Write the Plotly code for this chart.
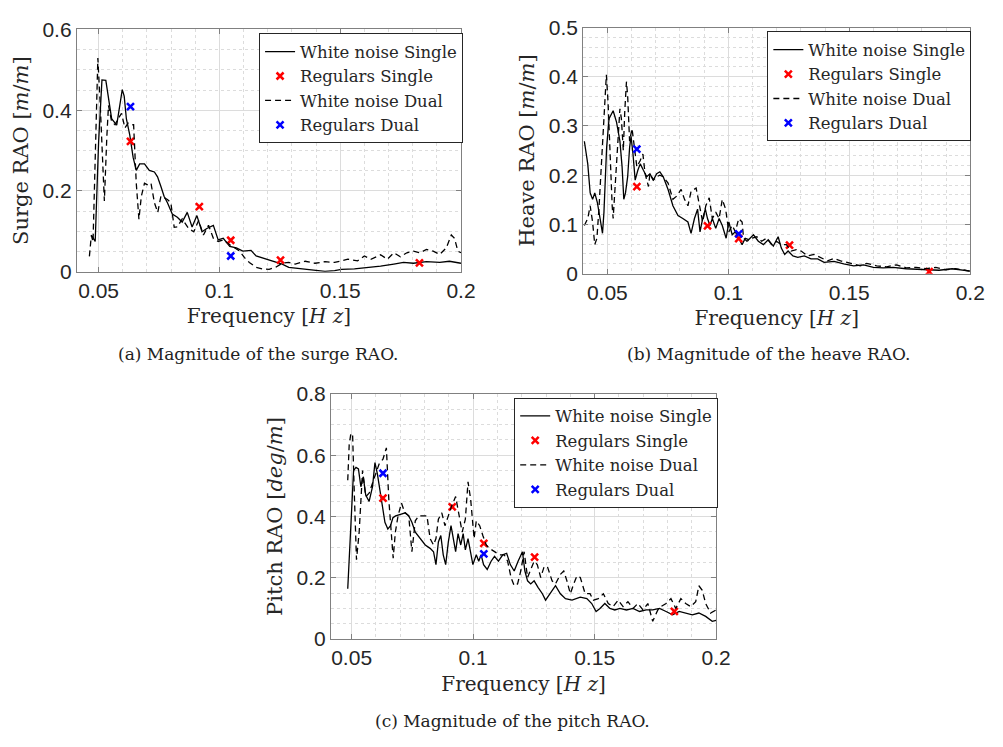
import plotly.graph_objects as go

# ---------------- (a) Surge ----------------
surge_ws_f = [0.047, 0.0486, 0.050, 0.0514, 0.053, 0.0554, 0.0575, 0.0588, 0.0598, 0.0606, 0.0615, 0.0629,
              0.0643, 0.0656, 0.067, 0.069, 0.071, 0.0731, 0.0744, 0.0758, 0.0771, 0.0785, 0.0805, 0.0826,
              0.0846, 0.0867, 0.0887, 0.0907, 0.0928, 0.0948, 0.0975, 0.0995, 0.1016, 0.1043, 0.107, 0.1097,
              0.1131, 0.1152, 0.1179, 0.1219, 0.126, 0.1287, 0.1342, 0.1396, 0.1437, 0.1477, 0.1505, 0.1559,
              0.1613, 0.1667, 0.1722, 0.1762, 0.1803, 0.1857, 0.1912, 0.1952, 0.2]
surge_ws_v = [0.091, 0.075, 0.32, 0.475, 0.474, 0.379, 0.363, 0.411, 0.451, 0.435, 0.379, 0.339,
              0.283, 0.251, 0.267, 0.267, 0.251, 0.247, 0.235, 0.211, 0.187, 0.171, 0.143, 0.135,
              0.123, 0.147, 0.111, 0.139, 0.099, 0.107, 0.115, 0.079, 0.083, 0.063, 0.059, 0.051,
              0.053, 0.039, 0.034, 0.027, 0.019, 0.011, 0.007, 0.003, 0.001, 0.003, 0.006, 0.007,
              0.010, 0.014, 0.019, 0.023, 0.021, 0.025, 0.023, 0.026, 0.021]
surge_wd_f = [0.0462, 0.047, 0.0477, 0.0497, 0.0507, 0.0524, 0.0534, 0.0541, 0.0554, 0.0568, 0.0582, 0.0595,
              0.0609, 0.0622, 0.0636, 0.0645, 0.0656, 0.0667, 0.0677, 0.069, 0.0704, 0.0717, 0.0731, 0.0745,
              0.0758, 0.0772, 0.0785, 0.0799, 0.0813, 0.0826, 0.0846, 0.0873, 0.0894, 0.0914, 0.0934, 0.0955,
              0.0975, 0.0995, 0.1016, 0.1043, 0.1063, 0.1084, 0.1104, 0.1124, 0.1152, 0.1179, 0.1206, 0.1233,
              0.126, 0.1287, 0.1314, 0.1355, 0.1396, 0.1437, 0.1477, 0.1505, 0.1532, 0.1572, 0.16, 0.1627,
              0.1667, 0.1695, 0.1722, 0.1749, 0.1776, 0.1803, 0.183, 0.1857, 0.1885, 0.1912, 0.1939, 0.196,
              0.1973, 0.1987, 0.2]
surge_wd_v = [0.038, 0.09, 0.074, 0.529, 0.412, 0.175, 0.332, 0.412, 0.372, 0.364, 0.38, 0.392,
              0.356, 0.368, 0.364, 0.364, 0.219, 0.13, 0.187, 0.219, 0.215, 0.219, 0.171, 0.147,
              0.187, 0.183, 0.179, 0.171, 0.11, 0.111, 0.131, 0.107, 0.099, 0.127, 0.091, 0.115,
              0.083, 0.075, 0.079, 0.067, 0.059, 0.051, 0.035, 0.023, 0.011, 0.007, 0.006, 0.011,
              0.021, 0.023, 0.019, 0.026, 0.021, 0.025, 0.023, 0.027, 0.031, 0.027, 0.039, 0.031,
              0.042, 0.031, 0.047, 0.037, 0.047, 0.051, 0.047, 0.055, 0.051, 0.043, 0.059, 0.091,
              0.083, 0.051, 0.047]
surge_rs_f = [0.0632, 0.0917, 0.1047, 0.1253, 0.1828]
surge_rs_v = [0.323, 0.161, 0.078, 0.029, 0.022]
surge_rd_f = [0.0632, 0.1047]
surge_rd_v = [0.409, 0.039]

# ---------------- (b) Heave ----------------
heave_ws_f = [0.0405, 0.0419, 0.0429, 0.0439, 0.0448, 0.0459, 0.047, 0.048, 0.0486, 0.0497, 0.0507, 0.0524,
              0.0538, 0.0552, 0.0561, 0.0568, 0.0575, 0.0584, 0.0592, 0.0598, 0.0606, 0.0615, 0.0626, 0.0636,
              0.0649, 0.0663, 0.0676, 0.069, 0.0704, 0.0717, 0.0731, 0.0751, 0.0771, 0.0792, 0.0812, 0.0833,
              0.0846, 0.086, 0.0873, 0.0883, 0.0894, 0.0905, 0.0914, 0.0924, 0.0934, 0.0948, 0.0962, 0.0975,
              0.0991, 0.1002, 0.1016, 0.1029, 0.1043, 0.1057, 0.107, 0.1084, 0.1104, 0.1124, 0.1145, 0.1165,
              0.1186, 0.1206, 0.1219, 0.1233, 0.1247, 0.1267, 0.1287, 0.1314, 0.1342, 0.1369, 0.1396, 0.1437,
              0.1477, 0.1518, 0.1559, 0.16, 0.164, 0.1681, 0.1735, 0.1776, 0.1817, 0.1871, 0.1925, 0.1966, 0.2]
heave_ws_v = [0.269, 0.223, 0.164, 0.151, 0.164, 0.144, 0.112, 0.082, 0.125, 0.256, 0.315, 0.331,
              0.308, 0.269, 0.217, 0.151, 0.164, 0.197, 0.256, 0.279, 0.243, 0.19, 0.21, 0.223,
              0.21, 0.197, 0.203, 0.19, 0.203, 0.207, 0.197, 0.171, 0.138, 0.118, 0.112, 0.105,
              0.082, 0.112, 0.131, 0.085, 0.112, 0.131, 0.112, 0.098, 0.112, 0.092, 0.112, 0.098,
              0.072, 0.105, 0.079, 0.085, 0.072, 0.059, 0.072, 0.069, 0.079, 0.066, 0.059, 0.069,
              0.056, 0.075, 0.052, 0.039, 0.046, 0.036, 0.033, 0.036, 0.03, 0.03, 0.023, 0.025,
              0.02, 0.016, 0.018, 0.013, 0.012, 0.013, 0.01, 0.009, 0.008, 0.007, 0.01, 0.007, 0.005]
heave_wd_f = [0.0405, 0.0419, 0.0429, 0.0439, 0.0448, 0.0457, 0.0466, 0.0477, 0.0486, 0.0496, 0.0503, 0.0511,
              0.052, 0.0524, 0.0534, 0.0543, 0.0552, 0.0558, 0.0566, 0.0572, 0.0579, 0.0584, 0.0592, 0.0602,
              0.0611, 0.0622, 0.0636, 0.0647, 0.0656, 0.067, 0.0676, 0.069, 0.0704, 0.0717, 0.0731, 0.0751,
              0.0771, 0.0785, 0.0805, 0.0819, 0.0833, 0.0846, 0.0867, 0.088, 0.0894, 0.0907, 0.0921, 0.0934,
              0.0948, 0.0962, 0.0975, 0.0989, 0.1002, 0.1016, 0.1029, 0.1043, 0.1057, 0.1063, 0.1077, 0.1097,
              0.1118, 0.1138, 0.1158, 0.1179, 0.1199, 0.1219, 0.124, 0.126, 0.1281, 0.1301, 0.1328, 0.1355,
              0.1382, 0.141, 0.1437, 0.1464, 0.1491, 0.1518, 0.1545, 0.1572, 0.1613, 0.1654, 0.1695, 0.1735,
              0.1776, 0.1817, 0.1858, 0.1898, 0.1939, 0.1979, 0.2]
heave_wd_v = [0.098, 0.112, 0.138, 0.105, 0.059, 0.072, 0.138, 0.236, 0.335, 0.404, 0.348, 0.236,
              0.138, 0.112, 0.19, 0.282, 0.335, 0.315, 0.25, 0.33, 0.39, 0.361, 0.269, 0.295,
              0.262, 0.217, 0.23, 0.243, 0.203, 0.177, 0.203, 0.19, 0.197, 0.2, 0.197, 0.184,
              0.151, 0.157, 0.171, 0.151, 0.138, 0.167, 0.174, 0.138, 0.105, 0.138, 0.154, 0.112,
              0.125, 0.112, 0.151, 0.131, 0.085, 0.098, 0.085, 0.112, 0.105, 0.072, 0.066, 0.072,
              0.075, 0.066, 0.072, 0.059, 0.066, 0.059, 0.059, 0.046, 0.049, 0.046, 0.036, 0.039,
              0.033, 0.026, 0.031, 0.026, 0.023, 0.02, 0.016, 0.021, 0.016, 0.014, 0.018, 0.012,
              0.013, 0.01, 0.013, 0.008, 0.01, 0.007, 0.005]
heave_rs_f = [0.0622, 0.0914, 0.1043, 0.1253, 0.183]
heave_rs_v = [0.177, 0.097, 0.071, 0.058, 0.004]
heave_rd_f = [0.0622, 0.1043]
heave_rd_v = [0.253, 0.081]

# ---------------- (c) Pitch ----------------
pitch_ws_f = [0.0484, 0.0493, 0.0501, 0.0508, 0.0518, 0.0528, 0.0538, 0.0548, 0.0558, 0.0572, 0.0586, 0.0596,
              0.0606, 0.0615, 0.0626, 0.0637, 0.0649, 0.066, 0.067, 0.0681, 0.0701, 0.0721, 0.0735, 0.0748,
              0.0762, 0.0782, 0.0803, 0.0823, 0.0837, 0.0847, 0.0857, 0.0867, 0.0877, 0.0887, 0.0898, 0.0909,
              0.0918, 0.0928, 0.0938, 0.0949, 0.0959, 0.0968, 0.0979, 0.099, 0.0999, 0.1013, 0.1023, 0.1033,
              0.1043, 0.1058, 0.1074, 0.1088, 0.1104, 0.1122, 0.1138, 0.1153, 0.1169, 0.1185, 0.1203, 0.1213,
              0.1224, 0.1237, 0.1251, 0.1267, 0.1285, 0.1298, 0.1318, 0.1339, 0.1359, 0.138, 0.1407, 0.1441,
              0.1468, 0.1488, 0.1506, 0.1522, 0.1542, 0.1563, 0.1583, 0.1604, 0.1631, 0.1658, 0.1685, 0.1712,
              0.1739, 0.1767, 0.1794, 0.1821, 0.1848, 0.1875, 0.1902, 0.1929, 0.1957, 0.1984, 0.2]
pitch_ws_v = [0.164, 0.317, 0.455, 0.55, 0.56, 0.555, 0.497, 0.529, 0.47, 0.449, 0.497, 0.576,
              0.539, 0.497, 0.433, 0.381, 0.359, 0.37, 0.396, 0.402, 0.407, 0.412, 0.402, 0.381,
              0.349, 0.328, 0.307, 0.296, 0.285, 0.243, 0.317, 0.338, 0.275, 0.243, 0.317, 0.37,
              0.328, 0.285, 0.344, 0.307, 0.344, 0.291, 0.328, 0.275, 0.243, 0.275, 0.254, 0.275,
              0.243, 0.227, 0.254, 0.27, 0.254, 0.275, 0.28, 0.243, 0.222, 0.254, 0.285, 0.222,
              0.19, 0.18, 0.19, 0.169, 0.148, 0.127, 0.148, 0.174, 0.148, 0.132, 0.127, 0.137,
              0.132, 0.116, 0.09, 0.1, 0.116, 0.1, 0.095, 0.1, 0.095, 0.1, 0.09, 0.095,
              0.095, 0.1, 0.09, 0.079, 0.09, 0.085, 0.079, 0.085, 0.074, 0.058, 0.061]
pitch_wd_f = [0.0484, 0.049, 0.0497, 0.0504, 0.0511, 0.052, 0.0531, 0.0545, 0.0558, 0.0572, 0.0592, 0.0613,
              0.0629, 0.0643, 0.0653, 0.0664, 0.0671, 0.068, 0.0691, 0.0705, 0.0719, 0.0735, 0.0748, 0.0762,
              0.0776, 0.0796, 0.081, 0.0823, 0.0837, 0.0847, 0.0857, 0.0871, 0.0884, 0.0898, 0.0911, 0.0928,
              0.0941, 0.0955, 0.0968, 0.0979, 0.099, 0.1004, 0.1013, 0.1027, 0.104, 0.1054, 0.1067, 0.1088,
              0.1108, 0.1128, 0.1142, 0.1156, 0.1169, 0.1183, 0.1196, 0.121, 0.1224, 0.1237, 0.1251, 0.1264,
              0.1278, 0.1291, 0.1305, 0.1325, 0.1339, 0.1359, 0.1373, 0.1386, 0.14, 0.1414, 0.1427, 0.1441,
              0.1461, 0.1481, 0.1495, 0.1515, 0.1536, 0.1556, 0.1576, 0.1597, 0.1617, 0.1637, 0.1658, 0.1678,
              0.1699, 0.1719, 0.1739, 0.176, 0.1773, 0.1794, 0.1814, 0.1834, 0.1855, 0.1875, 0.1895, 0.1916,
              0.1929, 0.1943, 0.1957, 0.1977, 0.2]
pitch_wd_v = [0.518, 0.634, 0.671, 0.666, 0.476, 0.259, 0.349, 0.55, 0.465, 0.476, 0.523, 0.571,
              0.587, 0.624, 0.455, 0.317, 0.264, 0.349, 0.402, 0.444, 0.412, 0.402, 0.285, 0.386,
              0.402, 0.402, 0.402, 0.328, 0.307, 0.328, 0.391, 0.412, 0.37, 0.402, 0.433, 0.465,
              0.402, 0.349, 0.391, 0.513, 0.455, 0.328, 0.386, 0.37, 0.338, 0.307, 0.296, 0.285,
              0.275, 0.275, 0.254, 0.201, 0.174, 0.18, 0.222, 0.285, 0.201, 0.227, 0.254, 0.243,
              0.201, 0.233, 0.238, 0.19, 0.18, 0.211, 0.222, 0.19, 0.148, 0.18, 0.206, 0.201,
              0.148, 0.148, 0.127, 0.132, 0.148, 0.116, 0.106, 0.127, 0.106, 0.122, 0.1, 0.116,
              0.095, 0.116, 0.058, 0.095, 0.106, 0.116, 0.132, 0.1, 0.132, 0.116, 0.106, 0.122,
              0.174, 0.159, 0.116, 0.085, 0.095]
pitch_rs_f = [0.0629, 0.0914, 0.1044, 0.1253, 0.1828]
pitch_rs_v = [0.46, 0.431, 0.312, 0.267, 0.09]
pitch_rd_f = [0.0629, 0.1044]
pitch_rd_v = [0.541, 0.278]

legend_names = ["White noise Single", "Regulars Single", "White noise Dual", "Regulars Dual"]
captions = ["(a) Magnitude of the surge RAO.", "(b) Magnitude of the heave RAO.", "(c) Magnitude of the pitch RAO."]
ytitles = ["Surge RAO [<i>m</i>/<i>m</i>]", "Heave RAO [<i>m</i>/<i>m</i>]", "Pitch RAO [<i>deg</i>/<i>m</i>]"]
xtitle = "Frequency [<i>H z</i>]"

W, H = 1003, 747
SERIF = "DejaVu Serif, Liberation Serif, serif"
SANS = "Liberation Sans, Arial, Helvetica, sans-serif"

panels = [
    dict(ws=(surge_ws_f, surge_ws_v), wd=(surge_wd_f, surge_wd_v), rs=(surge_rs_f, surge_rs_v), rd=(surge_rd_f, surge_rd_v),
         px=(78, 468), py=(18, 268), xr=[0.041, 0.2], yr=[0, 0.6], ydt=0.2, ymin=0.05, leg=(263, 22), cap=(262, 353)),
    dict(ws=(heave_ws_f, heave_ws_v), wd=(heave_wd_f, heave_wd_v), rs=(heave_rs_f, heave_rs_v), rd=(heave_rd_f, heave_rd_v),
         px=(592, 985), py=(16, 270), xr=[0.04, 0.2], yr=[0, 0.5], ydt=0.1, ymin=0.02, leg=(779, 20), cap=(780, 353)),
    dict(ws=(pitch_ws_f, pitch_ws_v), wd=(pitch_wd_f, pitch_wd_v), rs=(pitch_rs_f, pitch_rs_v), rd=(pitch_rd_f, pitch_rd_v),
         px=(336, 727), py=(394, 647), xr=[0.0415, 0.2], yr=[0, 0.8], ydt=0.2, ymin=0.05, leg=(522, 398), cap=(520, 732)),
]

fig = go.Figure()
AX = "#808080"
GRID = "#dcdcdc"
for i, p in enumerate(panels):
    n = "" if i == 0 else str(i + 1)
    xa, ya = "x" + n, "y" + n
    lg = "legend" + n
    fig.add_trace(go.Scatter(x=p["ws"][0], y=p["ws"][1], mode="lines", name=legend_names[0],
                             line=dict(color="black", width=1.3), xaxis=xa, yaxis=ya, legend=lg))
    fig.add_trace(go.Scatter(x=p["rs"][0], y=p["rs"][1], mode="markers", name=legend_names[1],
                             marker=dict(symbol="x-thin", size=7, line=dict(color="#ff0000", width=2.5)),
                             xaxis=xa, yaxis=ya, legend=lg))
    fig.add_trace(go.Scatter(x=p["wd"][0], y=p["wd"][1], mode="lines", name=legend_names[2],
                             line=dict(color="black", width=1.3, dash="6px,4px"), xaxis=xa, yaxis=ya, legend=lg))
    fig.add_trace(go.Scatter(x=p["rd"][0], y=p["rd"][1], mode="markers", name=legend_names[3],
                             marker=dict(symbol="x-thin", size=7, line=dict(color="#0000ff", width=2.5)),
                             xaxis=xa, yaxis=ya, legend=lg))
    xd = [p["px"][0] / W, p["px"][1] / W]
    yd = [1 - p["py"][1] / H, 1 - p["py"][0] / H]
    common = dict(showline=True, mirror="ticks", linecolor=AX, linewidth=1, ticks="inside", ticklen=5,
                  tickcolor=AX, showgrid=True, gridcolor=GRID, gridwidth=1, zeroline=False,
                  tickfont=dict(family=SANS, size=21, color="#262626"))
    fig.layout["xaxis" + n] = dict(common, domain=xd, range=p["xr"], anchor=ya, tick0=0, dtick=0.05,
                                   tickformat="~g", title=dict(text=xtitle, standoff=8,
                                                               font=dict(family=SERIF, size=20, color="#262626")),
                                   minor=dict(dtick=0.01, tick0=0, showgrid=True, griddash="dot", gridcolor=GRID, ticks=""))
    fig.layout["yaxis" + n] = dict(common, domain=yd, range=p["yr"], anchor=xa, tick0=0, dtick=p["ydt"],
                                   tickformat="~g", title=dict(text=ytitles[i], standoff=8,
                                                               font=dict(family=SERIF, size=21, color="#262626")),
                                   minor=dict(dtick=p["ymin"], tick0=0, showgrid=True, griddash="dot", gridcolor=GRID, ticks=""))
    fig.layout[lg] = dict(x=p["leg"][0] / W, y=1 - p["leg"][1] / H, xanchor="left", yanchor="top",
                          bgcolor="white", bordercolor="#262626", borderwidth=1,
                          font=dict(family=SERIF, size=16.5, color="#262626"), tracegroupgap=0,
                          itemwidth=30)
    fig.add_annotation(text=captions[i], x=p["cap"][0] / W, y=1 - p["cap"][1] / H, xref="paper", yref="paper",
                       showarrow=False, xanchor="center", yanchor="middle",
                       font=dict(family=SERIF, size=17, color="#222222"))

fig.update_layout(width=W, height=H, margin=dict(l=0, r=0, t=0, b=0), paper_bgcolor="white",
                  plot_bgcolor="white", showlegend=True)
fig.write_html("out.html")
